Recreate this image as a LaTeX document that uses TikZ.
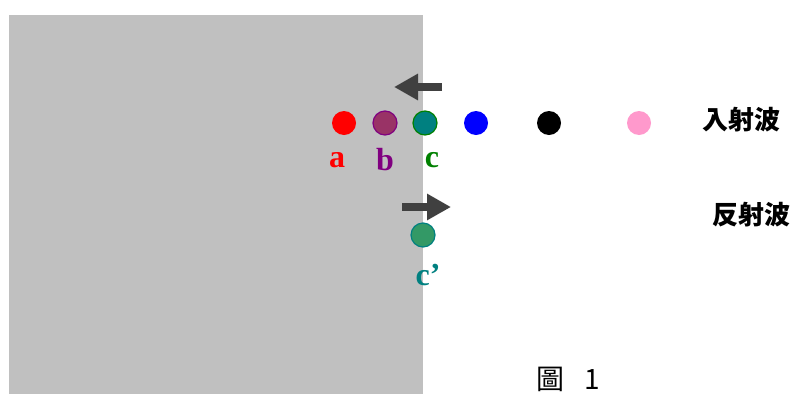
\documentclass[tikz,border=0pt]{standalone}
\usepackage{fontspec}
\setmainfont{Liberation Serif}
\newfontfamily\cjkfont{Noto Sans CJK TC}
\usetikzlibrary{arrows.meta, positioning}

\definecolor{wallgray}{HTML}{C0C0C0}
\definecolor{arrowgray}{HTML}{404040}
\definecolor{ballb}{HTML}{993366}
\definecolor{ballc}{HTML}{008080}
\definecolor{ballcr}{HTML}{339966}
\definecolor{ballpink}{HTML}{FF99CC}
\definecolor{labelpurple}{HTML}{800080}
\definecolor{labelgreen}{HTML}{008000}

\begin{document}
\begin{tikzpicture}[
    x=1pt, y=-1pt,
    ball/.style={circle, minimum size=24pt, inner sep=0pt, line width=1.2pt}, % Style for particles
    wavearrow/.style={-{Triangle[length=24pt, width=25pt]}, line width=8pt, arrowgray}, % Style for the thick arrows
    letter/.style={font=\bfseries\fontsize{32}{34}\selectfont}, % Style for particle labels
    wavelabel/.style={font=\cjkfont\bfseries\fontsize{26}{28}\selectfont} % Style for the wave labels
]
    \useasboundingbox (0,0) rectangle (791,394);

    % --- Wall ---
    \fill[wallgray] (9,15) rectangle (423,394);

    % --- Incident wave ---
    \coordinate (inStart) at (442,87);
    \coordinate (inEnd) at (394,87);
    \draw[wavearrow] (inStart) -- (inEnd);

    \node[ball, fill=red] (a) at (344,123) {};
    \node[ball, fill=ballb, draw=labelpurple] (b) at (385,123) {};
    \node[ball, fill=ballc, draw=labelgreen] (c) at (425,123) {};
    \node[ball, fill=blue] (d) at (476,123) {};
    \node[ball, fill=black] (e) at (549,123) {};
    \node[ball, fill=ballpink] (f) at (639,123) {};

    \node[letter, red] (la) at (337,160) {a};
    \node[letter, labelpurple] (lb) at (385,160) {b};
    \node[letter, labelgreen] (lc) at (432,160) {c};

    \node[wavelabel] (incident) at (741,120) {入射波};

    % --- Reflected wave ---
    \coordinate (outStart) at (402,207);
    \coordinate (outEnd) at (451,207);
    \draw[wavearrow] (outStart) -- (outEnd);

    \node[ball, fill=ballcr, draw=ballc] (cr) at (423,235) {};
    \node[letter, ballc] (lcr) at (428,275) {c’};

    \node[wavelabel] (reflected) at (751,215) {反射波};

    % --- Caption ---
    \node[font=\cjkfont\fontsize{28}{30}\selectfont, anchor=west, inner sep=0pt] (caption) at (536,379) {圖\hspace{20pt}1};
\end{tikzpicture}
\end{document}
